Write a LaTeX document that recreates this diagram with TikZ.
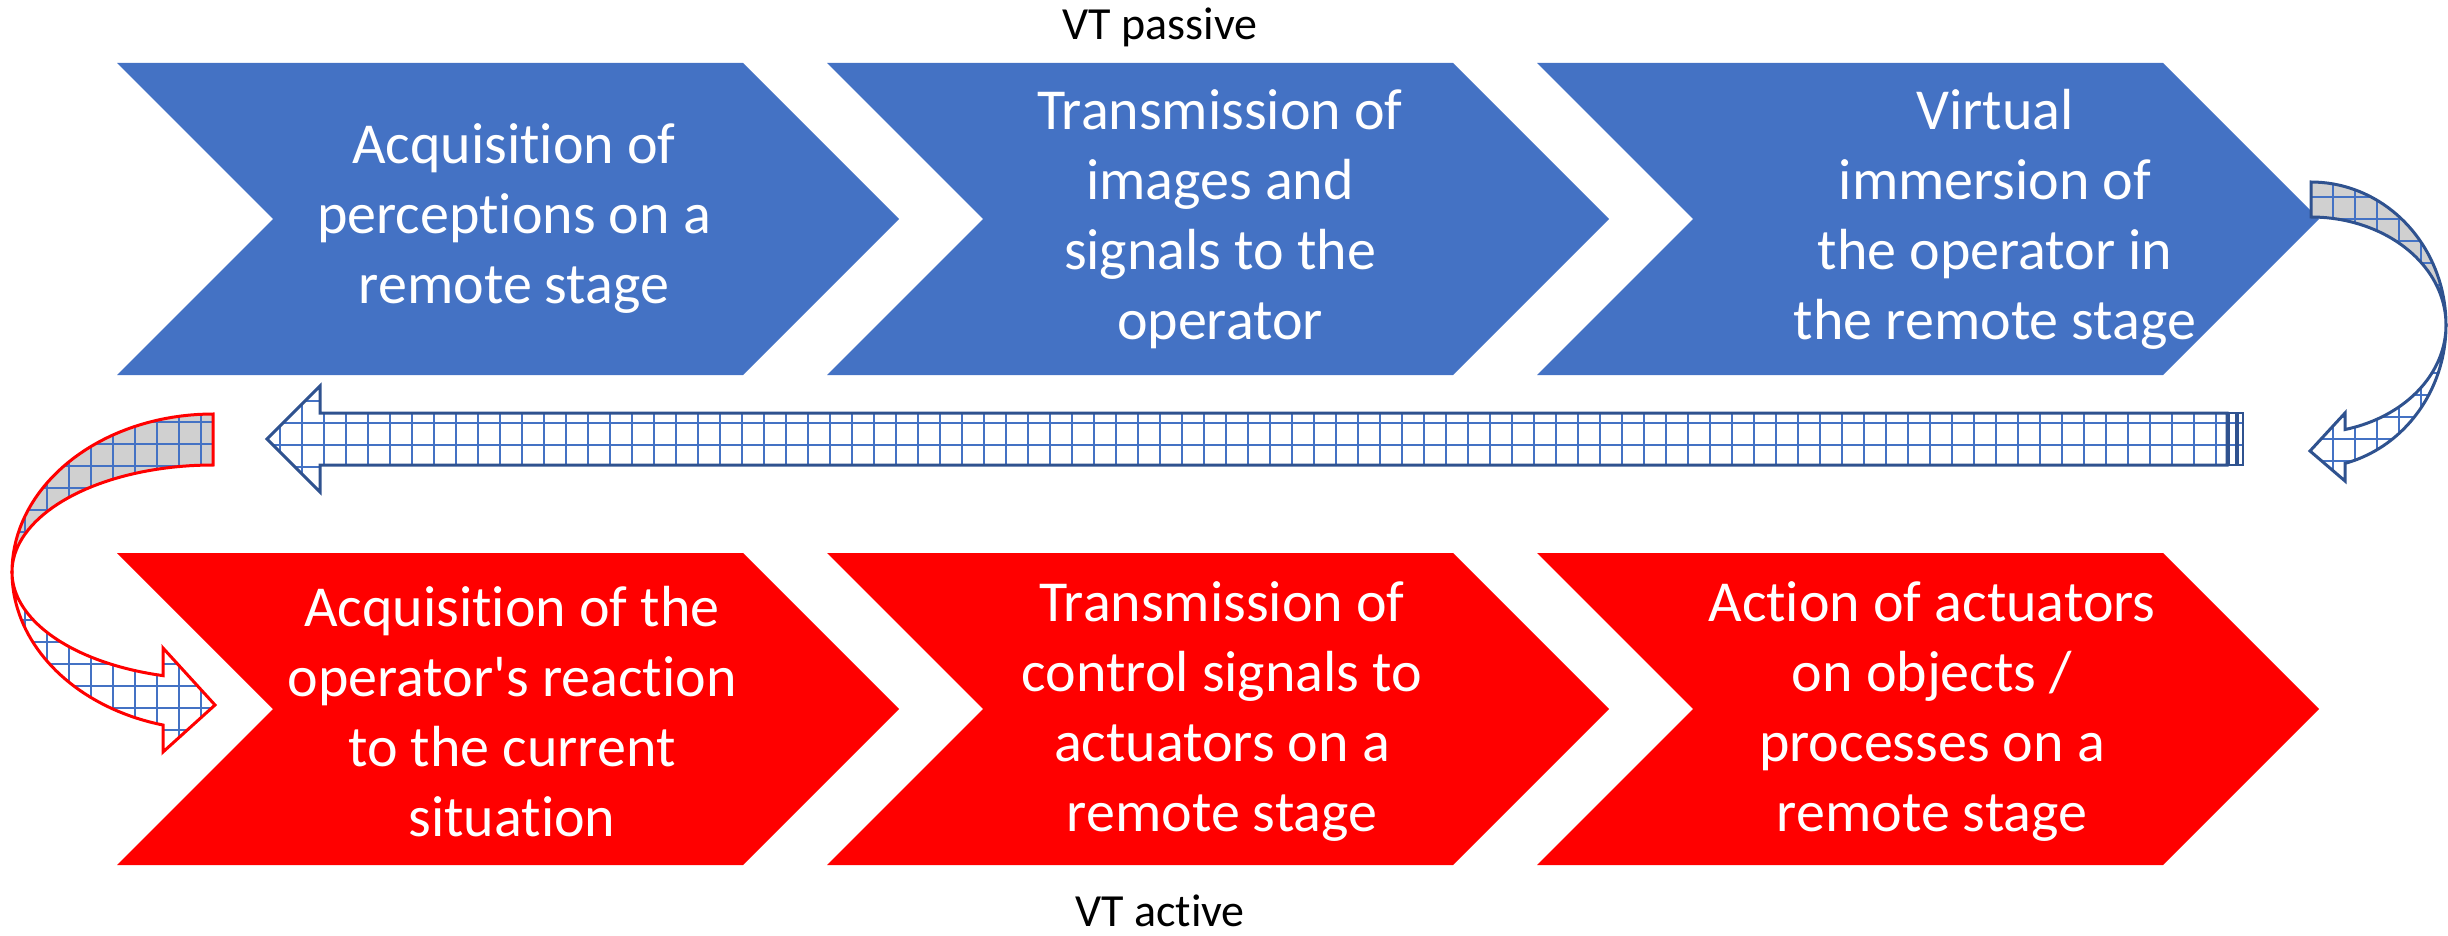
\documentclass[tikz,border=0pt]{standalone}
\usepackage{fontspec}
\setmainfont[Ligatures=NoCommon]{Carlito}
\definecolor{vtblue}{HTML}{4472C4}
\definecolor{vtdark}{HTML}{2F528F}
\definecolor{vtred}{HTML}{FF0000}
\definecolor{vtgray}{HTML}{D0D0D0}
\tikzset{
  chevblue/.style={fill=vtblue,draw=none},
  chevred/.style={fill=vtred,draw=none},
  chevtext/.style={text=white,align=center,font=\fontsize{58}{70}\selectfont,inner sep=0pt},
  vtlabel/.style={text=black,font=\fontsize{46}{55}\selectfont,inner sep=0pt},
  gridln/.style={draw=vtblue,line width=2.6pt},
  outblue/.style={draw=vtdark,line width=3pt,line join=miter},
  outred/.style={draw=vtred,line width=3pt,line join=miter},
}
\def\pathRU{plot[domain=90:0,samples=40] ({2311+135*cos(\x)},{325-143*sin(\x)}) -- plot[domain=0:90,samples=40] ({2311+135*cos(\x)},{325-108*sin(\x)}) -- cycle}
\def\pathRL{plot[domain=0:-75.4,samples=40] ({2311+135*cos(\x)},{325-143*sin(\x)}) -- (2345,481) -- (2310,451) -- (2345,413) -- plot[domain=-75.4:0,samples=40] ({2311+135*cos(\x)},{325-108*sin(\x)}) -- cycle}
\def\pathLU{plot[domain=90:0,samples=40] ({213-201*cos(\x)},{572-158*sin(\x)}) -- plot[domain=0:90,samples=40] ({213-201*cos(\x)},{572-107*sin(\x)}) -- cycle}
\def\pathLL{plot[domain=0:-75.6,samples=40] ({213-201*cos(\x)},{572-158*sin(\x)}) -- (163,752) -- (215,705) -- (163,648) -- plot[domain=-75.6:0,samples=40] ({213-201*cos(\x)},{572-107*sin(\x)}) -- cycle}
\def\pathLong{(267,439) -- (320,386) -- (320,413) -- (2227,413) -- (2227,465) -- (320,465) -- (320,492) -- cycle}
\begin{document}
\begin{tikzpicture}[x=1pt,y=-1pt]
\useasboundingbox (0,0) rectangle (2448,936);
% chevrons
\foreach \i in {0,1,2}{
  \path[chevblue,xshift=\i*710pt] (117,63) -- (743,63) -- (899,219) -- (743,375) -- (117,375) -- (273,219) -- cycle;
  \path[chevred,xshift=\i*710pt] (117,553) -- (743,553) -- (899,709) -- (743,865) -- (117,865) -- (273,709) -- cycle;
}
\node[chevtext] (b1) at (514,219) {Acquisition of\\perceptions on a\\remote stage};
\node[chevtext] (b2) at (1220,219) {Transmission of\\images and\\signals to the\\operator};
\node[chevtext] (b3) at (1995,219) {Virtual\\immersion of\\the operator in\\the remote stage};
\node[chevtext] (r1) at (512,712) {Acquisition of the\\operator\textquotesingle s reaction\\to the current\\situation};
\node[chevtext] (r2) at (1222,712) {Transmission of\\control signals to\\actuators on a\\remote stage};
\node[chevtext] (r3) at (1932,712) {Action of actuators\\on objects /\\processes on a\\remote stage};
\node[vtlabel] (vtp) at (1160,27) {VT passive};
\node[vtlabel] (vta) at (1160,911) {VT active};
% long arrow
\begin{scope}
  \clip \pathLong;
  \fill[white] \pathLong;
  \draw[gridln,shift={(302,423)}] (-60,-60) grid[step=22pt] (1960,80);
\end{scope}
\draw[outblue] \pathLong;
\begin{scope}
  \clip (2229,413) rectangle (2243,465);
  \draw[gridln] (2229,423) -- (2243,423) (2229,445) -- (2243,445);
\end{scope}
\draw[outblue,line width=2.4pt] (2229,413) rectangle (2236,465);
\draw[outblue,line width=2.4pt] (2238,413) rectangle (2243,465);
% right curved arrow
\begin{scope}
  \clip \pathRU;
  \fill[vtgray] \pathRU;
  \draw[gridln,shift={(2333,197)}] (-60,-60) grid[step=22pt] (160,200);
\end{scope}
\draw[outblue] \pathRU;
\begin{scope}
  \clip \pathRL;
  \fill[white] \pathRL;
  \draw[gridln,shift={(2333,197)}] (-60,-60) grid[step=22pt] (160,320);
\end{scope}
\draw[outblue] \pathRL;
% left curved arrow
\begin{scope}
  \clip \pathLU;
  \fill[vtgray] \pathLU;
  \draw[gridln,shift={(25,422)}] (-60,-60) grid[step=22pt] (220,200);
\end{scope}
\draw[outred] \pathLU;
\begin{scope}
  \clip \pathLL;
  \fill[white] \pathLL;
  \draw[gridln,shift={(25,422)}] (-60,-60) grid[step=22pt] (220,360);
\end{scope}
\draw[outred] \pathLL;
\end{tikzpicture}
\end{document}
